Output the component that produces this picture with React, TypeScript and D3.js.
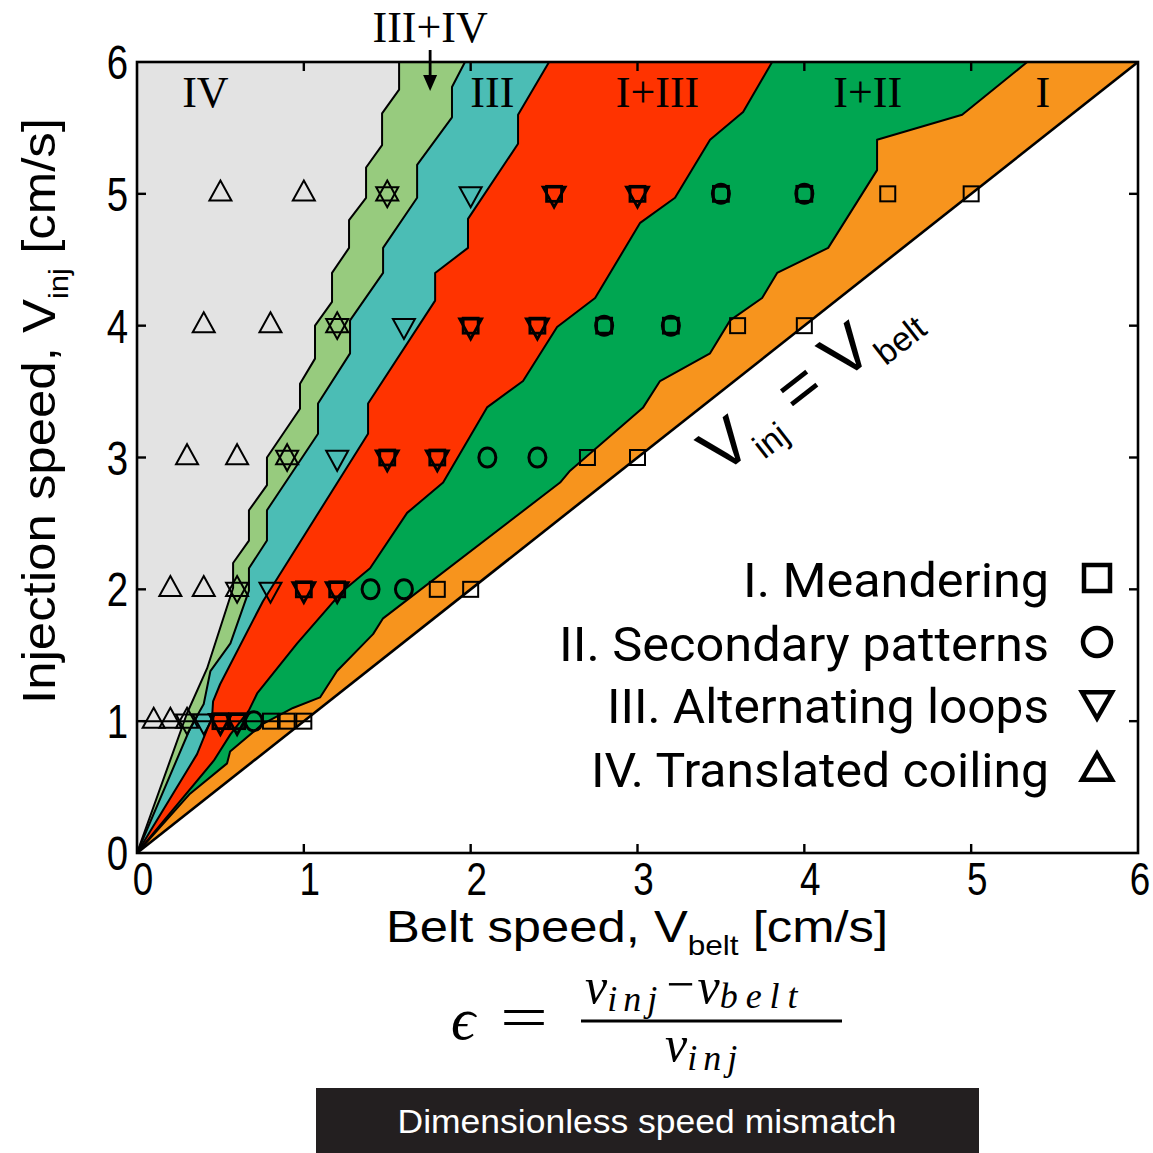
import React from 'react';
import * as d3 from 'd3';

const W = 1153;
const H = 1153;

// Axis ticks (cm/s)
const xTicks = [0, 1, 2, 3, 4, 5, 6];
const yTicks = [0, 1, 2, 3, 4, 5, 6];

type Pt = [number, number];

// Phase boundaries as [V_belt, V_inj], traced from the origin up to V_inj = 6
const bIVtoIIIIV: Pt[] = [
  [0, 0], [0.3, 1.06], [0.42, 1.4], [0.576, 2.01], [0.576, 2.2], [0.671, 2.37], [0.671, 2.6],
  [0.779, 2.79], [0.779, 3.0], [0.977, 3.37], [0.977, 3.56], [1.067, 3.75], [1.067, 4.0],
  [1.169, 4.18], [1.169, 4.4], [1.271, 4.59], [1.271, 4.8], [1.373, 4.97], [1.373, 5.2],
  [1.469, 5.37], [1.469, 5.61], [1.571, 5.79], [1.571, 6],
];
const bIIIIVtoIII: Pt[] = [
  [0, 0], [0.32, 0.95], [0.4, 1.13], [0.44, 1.38], [0.56, 1.59], [0.671, 1.99], [0.671, 2.16],
  [0.779, 2.37], [0.779, 2.6], [1.085, 3.18], [1.085, 3.41], [1.277, 3.79], [1.277, 4.04],
  [1.475, 4.4], [1.475, 4.59], [1.679, 4.97], [1.679, 5.22], [1.888, 5.58], [1.888, 5.81], [1.966, 6],
];
const bIIItoIIII: Pt[] = [
  [0, 0], [0.36, 0.75], [0.45, 1.03], [0.456, 1.15], [0.498, 1.28], [0.755, 1.91], [1.385, 3.18],
  [1.385, 3.41], [1.787, 4.19], [1.787, 4.4], [1.984, 4.59], [1.984, 4.81], [2.284, 5.38],
  [2.284, 5.6], [2.47, 6],
];
const bIIIItoIII: Pt[] = [
  [0, 0], [0.46, 0.7], [0.56, 0.9], [0.67, 1.08], [0.72, 1.21], [0.96, 1.59], [1.235, 1.99],
  [1.397, 2.16], [1.619, 2.58], [1.835, 2.81], [2.098, 3.38], [2.314, 3.58], [2.518, 3.99],
  [2.746, 4.21], [3.016, 4.78], [3.225, 4.97], [3.435, 5.41], [3.633, 5.62], [3.807, 6],
];
const bIIItoI: Pt[] = [
  [0, 0], [0.318, 0.45], [0.54, 0.68], [0.558, 0.77], [0.755, 0.98], [0.935, 1.1], [1.097, 1.18],
  [1.199, 1.38], [1.415, 1.66], [1.475, 1.78], [2.536, 2.81], [2.596, 2.9], [3.034, 3.38],
  [3.135, 3.58], [3.435, 3.79], [3.555, 4.04], [3.747, 4.21], [3.837, 4.4], [4.143, 4.59],
  [4.436, 5.18], [4.436, 5.41], [4.946, 5.6], [5.336, 6],
];
const vAxis: Pt[] = [[0, 0], [0, 6]];
const diagonal: Pt[] = [[0, 0], [6, 6]];

// Regime colours
const colIV = '#e3e3e3';
const colIIIIV = '#97cb7e';
const colIII = '#4bbdb5';
const colIIII = '#ff3300';
const colIII_ = '#00a651';
const colI = '#f7941d';

// Region labels and their V_belt positions
const regionNames = ['IV', 'III', 'I+III', 'I+II', 'I'];
const regionNameX = [0.41, 2.13, 3.12, 4.38, 5.43];

// Measured runs: one row per injection speed
const rowVinj = [1, 2, 3, 4, 5];
const row1Belt = [0.1, 0.2, 0.3, 0.4, 0.5, 0.6, 0.7, 0.8, 0.9, 1.0];
const row2Belt = [0.2, 0.4, 0.6, 0.8, 1.0, 1.2, 1.4, 1.6, 1.8, 2.0];
const row3Belt = [0.3, 0.6, 0.9, 1.2, 1.5, 1.8, 2.1, 2.4, 2.7, 3.0];
const row4Belt = [0.4, 0.8, 1.2, 1.6, 2.0, 2.4, 2.8, 3.2, 3.6, 4.0];
const row5Belt = [0.5, 1.0, 1.5, 2.0, 2.5, 3.0, 3.5, 4.0, 4.5, 5.0];
const row1Kind = ['tu', 'tu', 'star', 'td', 'sqtd', 'sqtd', 'ci', 'sq', 'sq', 'sq'];
const row2Kind = ['tu', 'tu', 'star', 'td', 'sqtd', 'sqtd', 'ci', 'ci', 'sq', 'sq'];
const row3Kind = ['tu', 'tu', 'star', 'td', 'sqtd', 'sqtd', 'ci', 'ci', 'sq', 'sq'];
const row4Kind = ['tu', 'tu', 'star', 'td', 'sqtd', 'sqtd', 'sqci', 'sqci', 'sq', 'sq'];
const row5Kind = ['tu', 'tu', 'star', 'td', 'sqtd', 'sqtd', 'sqci', 'sqci', 'sq', 'sq'];

// Legend
const legendLabels = ['I. Meandering', 'II. Secondary patterns', 'III. Alternating loops', 'IV. Translated coiling'];
const legendKinds = ['sq', 'ci', 'td', 'tu'];
const legendWidths = [306, 490, 442, 458];

const x = d3.scaleLinear().domain([0, 6]).range([137, 1138]);
const y = d3.scaleLinear().domain([0, 6]).range([853, 62]);

const line = d3.line<Pt>().x((d) => x(d[0])).y((d) => y(d[1]));

function regionPath(left: Pt[], right: Pt[]): string {
  const pts = [...left, ...right.slice().reverse()];
  return (line(pts) || '') + 'Z';
}

// triangles placed on their centroid so that up + down form a hexagram
const triUp = (w: number, h: number) => `M0,${(-2 * h) / 3}L${w},${h / 3}L${-w},${h / 3}Z`;
const triDown = (w: number, h: number) => `M0,${(2 * h) / 3}L${w},${-h / 3}L${-w},${-h / 3}Z`;

function Marker({ kind, cx, cy, big }: { kind: string; cx: number; cy: number; big?: boolean }) {
  const thin = big ? 4.5 : 2;
  const bold = big ? 4.5 : 2.8;
  const tw = big ? 15 : 11;
  const th = big ? 26 : 20;
  const h = big ? 13 : 7.5;
  const parts: React.ReactNode[] = [];
  if (kind === 'sq' || kind === 'sqtd' || kind === 'sqci') {
    parts.push(<rect key="s" x={-h} y={-h} width={2 * h} height={2 * h} fill="none" stroke="#000" strokeWidth={kind === 'sq' ? (big ? 4.5 : 2) : bold} />);
  }
  if (kind === 'ci' || kind === 'sqci') {
    parts.push(<ellipse key="c" rx={big ? 14 : 8.5} ry={big ? 14 : 9.5} fill="none" stroke="#000" strokeWidth={big ? 4.5 : 3} />);
  }
  if (kind === 'td' || kind === 'star' || kind === 'sqtd') {
    const dy = big ? -3 : 0;
    parts.push(<path key="d" transform={`translate(0,${dy})`} d={triDown(tw, th)} fill="none" stroke="#000" strokeWidth={kind === 'sqtd' ? bold : thin} strokeLinejoin="miter" />);
  }
  if (kind === 'tu' || kind === 'star') {
    const dy = big ? 3 : 0;
    parts.push(<path key="u" transform={`translate(0,${dy})`} d={triUp(tw, th)} fill="none" stroke="#000" strokeWidth={thin} strokeLinejoin="miter" />);
  }
  return <g transform={`translate(${cx},${cy})`}>{parts}</g>;
}

const sans = "'Liberation Sans', Arial, sans-serif";
const serif = "'Liberation Serif', 'Times New Roman', serif";

export default function App() {
  const rowsBelt = [row1Belt, row2Belt, row3Belt, row4Belt, row5Belt];
  const rowsKind = [row1Kind, row2Kind, row3Kind, row4Kind, row5Kind];
  const regions: [Pt[], Pt[], string][] = [
    [vAxis, bIVtoIIIIV, colIV],
    [bIVtoIIIIV, bIIIIVtoIII, colIIIIV],
    [bIIIIVtoIII, bIIItoIIII, colIII],
    [bIIItoIIII, bIIIItoIII, colIIII],
    [bIIIItoIII, bIIItoI, colIII_],
    [bIIItoI, diagonal, colI],
  ];
  const boundaries = [bIVtoIIIIV, bIIIIVtoIII, bIIItoIIII, bIIIItoIII, bIIItoI, diagonal];
  const innerTicks = [1, 2, 3, 4, 5];
  const arrowX = x(1.757);
  const legendY = [578, 642, 704, 768];

  return (
    <svg width={W} height={H} viewBox={`0 0 ${W} ${H}`} style={{ position: 'absolute', left: 0, top: 0, background: '#fff' }}>
      {/* phase regions */}
      {regions.map(([l, r, c], i) => (
        <path key={i} d={regionPath(l, r)} fill={c} stroke="none" />
      ))}
      {boundaries.map((b, i) => (
        <path key={i} d={line(b) || ''} fill="none" stroke="#000" strokeWidth={i === 5 ? 2.6 : 2} strokeLinejoin="round" />
      ))}

      {/* measured runs */}
      <line x1={x(row1Belt[0]) - 11} x2={x(row1Belt[row1Belt.length - 1]) + 8} y1={y(rowVinj[0])} y2={y(rowVinj[0])} stroke="#000" strokeWidth={2} />
      {rowsBelt.map((row, ri) =>
        row.map((vb, j) => <Marker key={`${ri}-${j}`} kind={rowsKind[ri][j]} cx={x(vb)} cy={y(rowVinj[ri])} />)
      )}

      {/* frame and ticks */}
      <rect x={x(0)} y={y(6)} width={x(6) - x(0)} height={y(0) - y(6)} fill="none" stroke="#000" strokeWidth={2.6} />
      {innerTicks.map((t) => (
        <g key={t}>
          <line x1={x(t)} x2={x(t)} y1={y(0)} y2={y(0) - 9} stroke="#000" strokeWidth={2.4} />
          <line x1={x(t)} x2={x(t)} y1={y(6)} y2={y(6) + 9} stroke="#000" strokeWidth={2.4} />
          <line x1={x(0)} x2={x(0) + 9} y1={y(t)} y2={y(t)} stroke="#000" strokeWidth={2.4} />
          <line x1={x(6)} x2={x(6) - 9} y1={y(t)} y2={y(t)} stroke="#000" strokeWidth={2.4} />
        </g>
      ))}
      {xTicks.map((t) => (
        <text key={t} transform={`translate(${x(t) + (t === 6 ? 2 : 6)},${y(0) + 42}) scale(0.8,1)`} textAnchor="middle" fontFamily={sans} fontSize={46}>{t}</text>
      ))}
      {yTicks.map((t) => (
        <text key={t} transform={`translate(${x(0) - 9},${y(t) + 17}) scale(0.8,1)`} textAnchor="end" fontFamily={sans} fontSize={48}>{t}</text>
      ))}

      {/* axis titles */}
      <text x={386} y={942} fontFamily={sans} fontSize={45} textLength={502} lengthAdjust="spacingAndGlyphs">
        Belt speed, V<tspan fontSize={28} dy={13}>belt</tspan><tspan dy={-13}> [cm/s]</tspan>
      </text>
      <text transform="translate(55,411) rotate(-90)" textAnchor="middle" fontFamily={sans} fontSize={46} textLength={586} lengthAdjust="spacingAndGlyphs">
        Injection speed, V<tspan fontSize={28} dy={13}>inj</tspan><tspan dy={-13}> [cm/s]</tspan>
      </text>

      {/* region names */}
      {regionNames.map((n, i) => (
        <text key={n} x={x(regionNameX[i])} y={y(5.66)} textAnchor="middle" fontFamily={serif} fontSize={44}>{n}</text>
      ))}
      <text x={arrowX} y={42} textAnchor="middle" fontFamily={serif} fontSize={44}>III+IV</text>
      <line x1={arrowX} x2={arrowX} y1={50} y2={78} stroke="#000" strokeWidth={2.8} />
      <path d={`M${arrowX - 7},75L${arrowX + 7},75L${arrowX},91Z`} fill="#000" />

      {/* equality line label */}
      <g transform="translate(721,476) rotate(-37.8)">
        <text fontFamily={sans} fontSize={66}>
          V<tspan fontSize={34} dy={14}>inj</tspan><tspan dy={-14}> = V</tspan><tspan fontSize={34} dy={14}>belt</tspan>
        </text>
      </g>

      {/* legend */}
      {legendLabels.map((l, i) => (
        <g key={l}>
          <text x={1049} y={legendY[i] + 19} textAnchor="end" fontFamily="Roboto, 'Noto Sans', sans-serif" fontSize={49} textLength={legendWidths[i]} lengthAdjust="spacingAndGlyphs">{l}</text>
          <Marker kind={legendKinds[i]} cx={1097} cy={legendY[i]} big />
        </g>
      ))}

      {/* mismatch definition */}
      <text x={451} y={1039} fontFamily={serif} fontStyle="italic" fontSize={60}>ϵ</text>
      <text x={500} y={1037} fontFamily={serif} fontSize={60} textLength={48} lengthAdjust="spacingAndGlyphs">=</text>
      <line x1={581} x2={842} y1={1021} y2={1021} stroke="#000" strokeWidth={3} />
      <text x={585} y={1003} fontFamily={serif} fontStyle="italic" fontSize={50}>
        v<tspan fontSize={36} dy={8} letterSpacing={6}>inj</tspan>
        <tspan fontStyle="normal" fontSize={50} dy={-10} dx={3}>−</tspan>
        <tspan dy={2} dx={3}>v</tspan>
        <tspan fontSize={36} dy={5} letterSpacing={8}>belt</tspan>
      </text>
      <text x={665} y={1061} fontFamily={serif} fontStyle="italic" fontSize={50}>
        v<tspan fontSize={36} dy={9} letterSpacing={6}>inj</tspan>
      </text>

      <rect x={316} y={1088} width={663} height={70} fill="#231f20" />
      <text x={647} y={1133} textAnchor="middle" fill="#fff" fontFamily={sans} fontSize={33} textLength={499} lengthAdjust="spacingAndGlyphs">
        Dimensionless speed mismatch
      </text>
    </svg>
  );
}
